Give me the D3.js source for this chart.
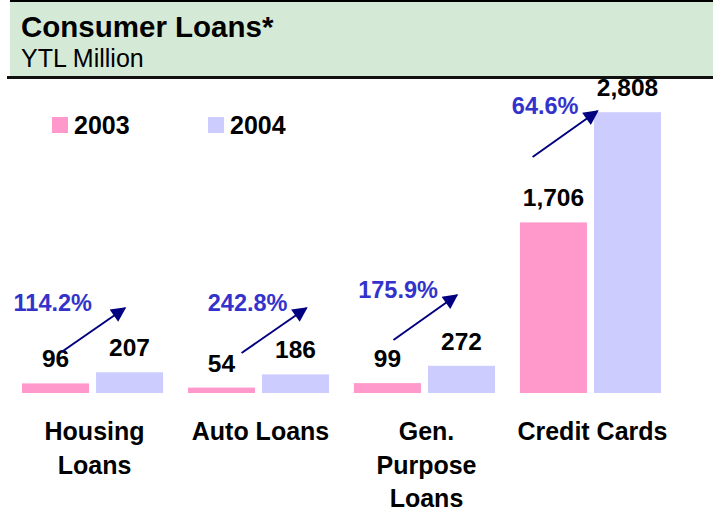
<!DOCTYPE html>
<html>
<head>
<meta charset="utf-8">
<script src="https://cdn.jsdelivr.net/npm/d3@7"></script>
<style>
  html, body { margin: 0; padding: 0; background: #fff; }
  svg { display: block; font-family: "Liberation Sans", Arial, sans-serif; }
</style>
</head>
<body>
<svg id="chart" width="713" height="515"></svg>
<script>
// ---- data ----
const categories = ["Housing Loans", "Auto Loans", "Gen. Purpose Loans", "Credit Cards"];
const categoryLines = [["Housing", "Loans"], ["Auto Loans"], ["Gen.", "Purpose", "Loans"], ["Credit Cards"]];
const years = ["2003", "2004"];
const values2003 = [96, 54, 99, 1706];
const values2004 = [207, 186, 272, 2808];
const growthLabels = ["114.2%", "242.8%", "175.9%", "64.6%"];
// arrow annotation anchors in data units (value axis) per category
const arrowFromValue = [410, 400, 530, 2360];
const arrowToValue = [850, 850, 980, 2820];

const title = "Consumer Loans*";
const subtitle = "YTL Million";

// ---- chart ----
const W = 713, H = 515;
const svg = d3.select("#chart");
const colors = { "2003": "#ff99cc", "2004": "#ccccff" };

// header
svg.append("rect").attr("x", 10).attr("y", 1).attr("width", W - 10).attr("height", 76).attr("fill", "#d5ead6");
svg.append("line").attr("x1", 10).attr("x2", W).attr("y1", 1).attr("y2", 1).attr("stroke", "#000").attr("stroke-width", 2);
svg.append("line").attr("x1", 7).attr("x2", W).attr("y1", 77.5).attr("y2", 77.5).attr("stroke", "#111").attr("stroke-width", 3);
svg.append("text").attr("x", 21).attr("y", 37).attr("font-size", 29.5).attr("font-weight", "bold").attr("fill", "#000").text(title);
svg.append("text").attr("x", 21).attr("y", 67).attr("font-size", 25).attr("fill", "#000").text(subtitle);

// scales
const x = d3.scaleBand().domain(categories).range([22, 661]).paddingInner(0.15).paddingOuter(0);
const xi = d3.scaleBand().domain(years).range([0, x.bandwidth()]).paddingInner(0.095).paddingOuter(0);
const y = d3.scaleLinear().domain([0, 3000]).range([393, 93]);

const rows = categories.map((c, i) => ({ cat: c, i, v: { "2003": values2003[i], "2004": values2004[i] } }));
const fmt = d3.format(",");

const g = svg.append("g");
const groups = g.selectAll("g.grp").data(rows).join("g").attr("class", "grp")
  .attr("transform", d => `translate(${x(d.cat)},0)`);

groups.selectAll("rect").data(d => years.map(yr => ({ yr, v: d.v[yr] }))).join("rect")
  .attr("x", d => xi(d.yr)).attr("width", xi.bandwidth())
  .attr("y", d => y(d.v)).attr("height", d => y(0) - y(d.v))
  .attr("fill", d => colors[d.yr]);

groups.selectAll("text.val").data(d => years.map(yr => ({ yr, v: d.v[yr] }))).join("text")
  .attr("class", "val")
  .attr("x", d => xi(d.yr) + xi.bandwidth() / 2)
  .attr("y", d => y(d.v) - 16)
  .attr("text-anchor", "middle").attr("font-size", 24.5).attr("font-weight", "bold").attr("fill", "#000")
  .text(d => fmt(d.v));

// arrows
const defs = svg.append("defs");
defs.append("marker").attr("id", "ah").attr("viewBox", "0 0 10 10").attr("refX", 9).attr("refY", 5)
  .attr("markerWidth", 8.5).attr("markerHeight", 7.5).attr("markerUnits", "strokeWidth").attr("orient", "auto")
  .append("path").attr("d", "M0,0 L10,5 L0,10 Z").attr("fill", "#000080");

const arrowX0 = [0.28, 0.38, 0.28, 0.09];
const arrowX1 = [0.73, 0.84, 0.73, 0.55];
rows.forEach((d, i) => {
  const gx = x(d.cat), bw = x.bandwidth();
  const x0 = gx + arrowX0[i] * bw, x1 = gx + arrowX1[i] * bw;
  const y0 = y(arrowFromValue[i]), y1 = y(arrowToValue[i]);
  svg.append("line").attr("x1", x0).attr("y1", y0).attr("x2", x1).attr("y2", y1)
    .attr("stroke", "#000080").attr("stroke-width", 2).attr("marker-end", "url(#ah)");
  svg.append("text")
    .attr("x", i === 0 ? x1 - 33 : x1 - 19).attr("y", y1 + 3)
    .attr("text-anchor", "end").attr("font-size", 23.5).attr("font-weight", "bold").attr("fill", "#3333cc")
    .text(growthLabels[i]);
});

// category labels
rows.forEach((d, i) => {
  const t = svg.append("text").attr("text-anchor", "middle").attr("font-size", 25).attr("font-weight", "bold").attr("fill", "#000");
  categoryLines[i].forEach((ln, k) => {
    t.append("tspan").attr("x", x(d.cat) + x.bandwidth() / 2 + 2).attr("y", 440 + k * 33.5).text(ln);
  });
});

// legend
const leg = svg.append("g");
const legX = [52, 208];
years.forEach((yr, k) => {
  leg.append("rect").attr("x", legX[k]).attr("y", 117).attr("width", 16).attr("height", 16).attr("fill", colors[yr]);
  leg.append("text").attr("x", legX[k] + 22).attr("y", 134).attr("font-size", 25).attr("font-weight", "bold").attr("fill", "#000").text(yr);
});
</script>
</body>
</html>
